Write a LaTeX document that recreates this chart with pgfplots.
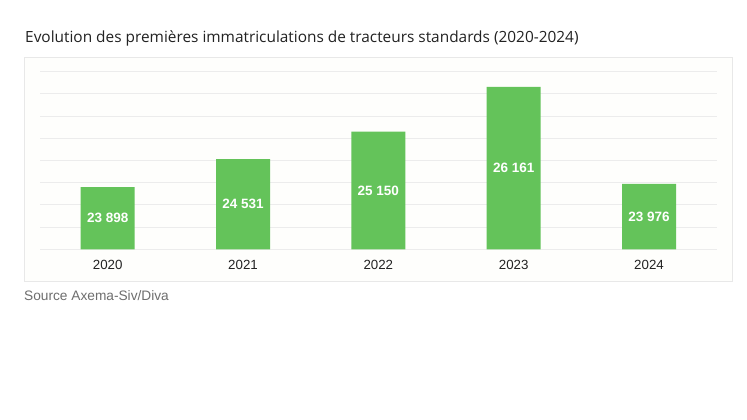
\documentclass[border=0pt]{standalone}
\usepackage{pgfplots}
\pgfplotsset{compat=1.18}
\usepackage{fontspec}
\setmainfont{Liberation Sans}
\newfontfamily\titlefont{Open Sans}
\definecolor{bargreen}{RGB}{100,195,90}
\definecolor{gridc}{RGB}{236,236,236}
\definecolor{boxc}{RGB}{232,232,232}
\definecolor{titlec}{RGB}{34,34,34}
\definecolor{srcc}{RGB}{110,110,110}
\begin{document}
\begin{tikzpicture}
\fill[white] (0pt,0pt) rectangle (747pt,420pt);
\draw[boxc,fill={rgb,255:red,254;green,254;blue,252}] (24pt,138.3pt) rectangle (731.7pt,363pt);
\node[anchor=west,inner sep=0pt,text=titlec,font=\titlefont\fontsize{15.4}{17}\selectfont] at (25pt,382pt) {Evolution des premières immatriculations de tracteurs standards (2020-2024)};
\node[anchor=west,inner sep=0pt,text=srcc,font=\fontsize{13.7}{15}\selectfont] at (24pt,124pt) {Source Axema-Siv/Diva};
\begin{axis}[
  at={(40pt,170.7pt)}, anchor=south west,
  scale only axis, width=676.7pt, height=177.6pt,
  xmin=-0.5, xmax=4.5, ymin=22.5, ymax=26.5,
  xtick=data, xticklabels={2020,2021,2022,2023,2024},
  ytick={22.5,23,...,26.5}, yticklabels={},
  ymajorgrids, grid style={gridc, line width=0.8pt},
  axis line style={draw=none}, major tick length=0pt,
  xticklabel style={font=\fontsize{13.3}{15}\selectfont, text=titlec, yshift=-7.5pt},
  /pgf/number format/assume math mode=true,
  clip=false,
]
% values in thousands; exact counts given as point meta
\addplot[ybar, bar width=54pt, fill=bargreen, draw=none,
  point meta=explicit,
  visualization depends on={rawy \as \rawy},
  nodes near coords={\pgfmathprintnumber[fixed,precision=0,1000 sep={\ }]{\pgfplotspointmeta}},
  every node near coord/.append style={anchor=center, text=white, font=\fontsize{13.5}{15}\selectfont\bfseries, yshift={-(\rawy-22.5)*22.2}},
] coordinates {(0,23.898) [23898] (1,24.531) [24531] (2,25.150) [25150] (3,26.161) [26161] (4,23.976) [23976]};
\end{axis}
\end{tikzpicture}
\end{document}
